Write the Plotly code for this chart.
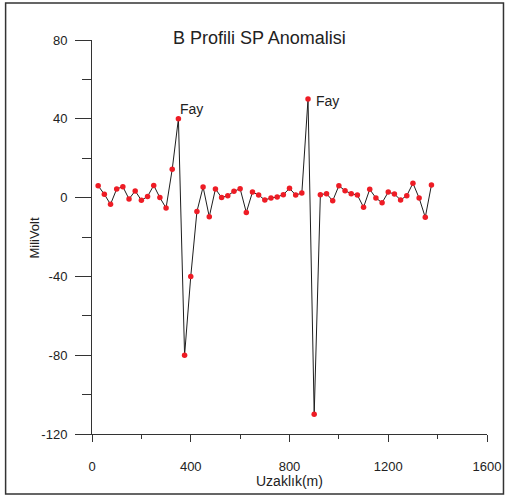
import plotly.graph_objects as go

# Data
distance_m = [25 * i for i in range(1, 56)]
sp_mv = [6.0, 1.7, -3.4, 4.4, 5.5, -0.7, 3.4, -1.4, 0.6, 6.2,
         0.0, -5.3, 14.4, 40.0, -80.0, -40.0, -7.1, 5.4, -9.7, 4.4,
         0.0, 1.0, 3.2, 4.5, -7.5, 2.8, 1.3, -1.2, -0.2, 0.3,
         1.5, 4.7, 1.3, 2.3, 50.0, -110.0, 1.5, 2.0, -1.6, 6.0,
         3.5, 2.0, 1.3, -4.9, 4.2, -0.2, -2.6, 2.8, 1.8, -1.2,
         1.0, 7.3, -0.2, -10.0, 6.4]
fault_labels = ["Fay", "Fay"]
fault_x = [401, 955]
fault_y = [45, 49]
x_ticks = [0, 400, 800, 1200, 1600]
x_tick_text = ["0", "400", "800", "1200", "1600"]
y_ticks = [-120, -80, -40, 0, 40, 80]
y_tick_text = ["-120", "-80", "-40", "0", "40", "80"]

W, H = 508, 498
L, R, T, B = 91.5, 487, 40, 434

def px(xp):
    return (xp - L) / (R - L)

def py(yp):
    return (B - yp) / (B - T)

FONT = "Liberation Sans, Arial, sans-serif"

fig = go.Figure()
fig.add_trace(go.Scatter(
    x=distance_m, y=sp_mv, mode="lines+markers",
    line=dict(color="#1e1e1e", width=1),
    marker=dict(color="#ee1c25", size=5.5),
    showlegend=False, hoverinfo="x+y"))

for t, xv, yv in zip(fault_labels, fault_x, fault_y):
    fig.add_annotation(x=xv, y=yv, xref="x", yref="y", text=t, showarrow=False,
                       xanchor="center", yanchor="middle",
                       font=dict(family=FONT, size=14, color="#222"))

fig.add_annotation(x=px(259), y=py(37.7), xref="paper", yref="paper",
                   text="B Profili SP Anomalisi", showarrow=False,
                   xanchor="center", yanchor="middle",
                   font=dict(family=FONT, size=18, color="#222"))
fig.add_annotation(x=px(289), y=py(481.5), xref="paper", yref="paper",
                   text="Uzaklık(m)", showarrow=False,
                   xanchor="center", yanchor="middle",
                   font=dict(family=FONT, size=14, color="#222"))
fig.add_annotation(x=px(33), y=py(238), xref="paper", yref="paper",
                   text="MiliVolt", showarrow=False, textangle=-90,
                   xanchor="center", yanchor="middle",
                   font=dict(family=FONT, size=13, color="#222"))

fig.add_shape(type="rect", xref="paper", yref="paper",
              x0=px(5), x1=px(503.5), y0=py(494), y1=py(3),
              line=dict(color="#333", width=1.5))

fig.update_xaxes(range=[0, 1600], tickvals=x_ticks, ticktext=x_tick_text,
                 showgrid=False, zeroline=False,
                 showline=True, linecolor="#333", linewidth=1,
                 ticks="outside", ticklen=7, tickcolor="#333", tickwidth=1,
                 ticklabelstandoff=13, automargin=False,
                 minor=dict(dtick=200, tick0=0, ticks="outside", ticklen=4,
                            tickcolor="#333", showgrid=False),
                 tickfont=dict(family=FONT, size=13, color="#222"))
fig.update_yaxes(range=[-120, 80], tickvals=y_ticks, ticktext=y_tick_text,
                 showgrid=False, zeroline=False,
                 showline=True, linecolor="#333", linewidth=1,
                 ticks="outside", ticklen=16, tickcolor="#333", tickwidth=1,
                 ticklabelstandoff=5, automargin=False,
                 minor=dict(dtick=20, tick0=0, ticks="outside", ticklen=9,
                            tickcolor="#333", showgrid=False),
                 tickfont=dict(family=FONT, size=13, color="#222"))

fig.update_layout(width=W, height=H, margin=dict(l=L, r=W - R, t=T, b=H - B),
                  paper_bgcolor="white", plot_bgcolor="white")

fig.write_html("out.html")
